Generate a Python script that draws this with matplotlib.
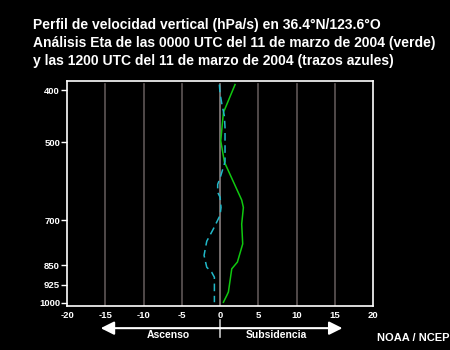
import matplotlib
matplotlib.use("Agg")
import matplotlib.pyplot as plt
from matplotlib.ticker import FixedLocator, NullLocator

# Data
green_omega = [1.96, 0.44, 0.09, 0.57, 2.83, 3.05, 2.83, 2.96, 2.27, 1.53, 1.09, 0.87, 0.44]
green_pres = [390, 440, 497, 545, 642, 663, 712, 776, 839, 864, 955, 970, 998]

blue_omega = [-0.09, 0.0, 0.22, 0.57, 0.65, 0.65, 0.0, -0.31, -0.31, 0.0, 0.13, 0.0,
              -0.87, -1.74, -2.09, -1.74, -1.09, -0.74, -0.74]
blue_pres = [390, 405, 423, 447, 470, 544, 584, 600, 621, 634, 663, 686,
             727, 767, 815, 858, 877, 896, 998]

x_ticks = [-20, -15, -10, -5, 0, 5, 10, 15, 20]
y_ticks = [400, 500, 700, 850, 925, 1000]
grid_x = [-15, -10, -5, 0, 5, 10, 15]

title_lines = ["Perfil de velocidad vertical (hPa/s) en 36.4°N/123.6°O",
               "Análisis Eta de las 0000 UTC del 11 de marzo de 2004 (verde)",
               "y las 1200 UTC del 11 de marzo de 2004 (trazos azules)"]

plt.rcParams['font.family'] = ['Liberation Sans', 'DejaVu Sans']

fig = plt.figure(figsize=(4.5, 3.5), dpi=100, facecolor='black')
ax = fig.add_axes([0.149, 0.1266, 0.680, 0.642], facecolor='black')

ax.set_yscale('log')
ax.set_xlim(-20, 20)
ax.set_ylim(1013, 384)

for gx in grid_x:
    col = '#8a8080' if gx == 0 else '#5e5656'
    ax.axvline(gx, ymin=0, ymax=0.985, color=col, lw=1.2, zorder=1)

ax.plot(green_omega, green_pres, color='#10c810', lw=1.1, zorder=3)
ax.plot(blue_omega, blue_pres, color='#20b8c8', lw=1.1, dashes=(5, 3), zorder=3)

ax.yaxis.set_major_locator(FixedLocator(y_ticks))
ax.yaxis.set_minor_locator(NullLocator())
ax.set_yticklabels([str(v) for v in y_ticks])
ax.set_xticks(x_ticks)
ax.set_xticklabels([str(v) for v in x_ticks])

for sp in ax.spines.values():
    sp.set_color('white')
    sp.set_linewidth(1.2)
ax.tick_params(axis='y', colors='white', length=4, width=1, labelsize=6.8, pad=1)
ax.tick_params(axis='x', colors='white', length=0, labelsize=6.8, pad=3.5)
for lab in ax.get_xticklabels() + ax.get_yticklabels():
    lab.set_fontweight('bold')

# Title
for i, line in enumerate(title_lines):
    fig.text(33 / 450, 1 - (25 + i * 18) / 350, line, color='white', fontsize=10,
             fontweight='bold', ha='left', va='center')

# Arrow annotation below axis
yarr = -0.1
for xend in (-15.6, 16):
    ax.annotate('', xy=(xend, yarr), xytext=(0, yarr), xycoords=('data', 'axes fraction'),
                arrowprops=dict(arrowstyle='-|>,head_length=0.8,head_width=0.4', color='#c8c8c8',
                                lw=1.5, fc='white', ec='white', shrinkA=0, shrinkB=0),
                annotation_clip=False)
ax.plot([0, 0], [-0.064, -0.14], transform=ax.get_xaxis_transform(), color='#c8c8c8',
        lw=1.2, clip_on=False)
ax.text(-6.8, -0.13, 'Ascenso', transform=ax.get_xaxis_transform(), color='white',
        fontsize=7.5, fontweight='bold', ha='center', va='center')
ax.text(7.4, -0.13, 'Subsidencia', transform=ax.get_xaxis_transform(), color='white',
        fontsize=7.5, fontweight='bold', ha='center', va='center')
fig.text(413 / 450, 1 - 338 / 350, 'NOAA / NCEP', color='white', fontsize=8,
         fontweight='bold', ha='center', va='center')

fig.savefig('out.png', dpi=100, facecolor='black')
